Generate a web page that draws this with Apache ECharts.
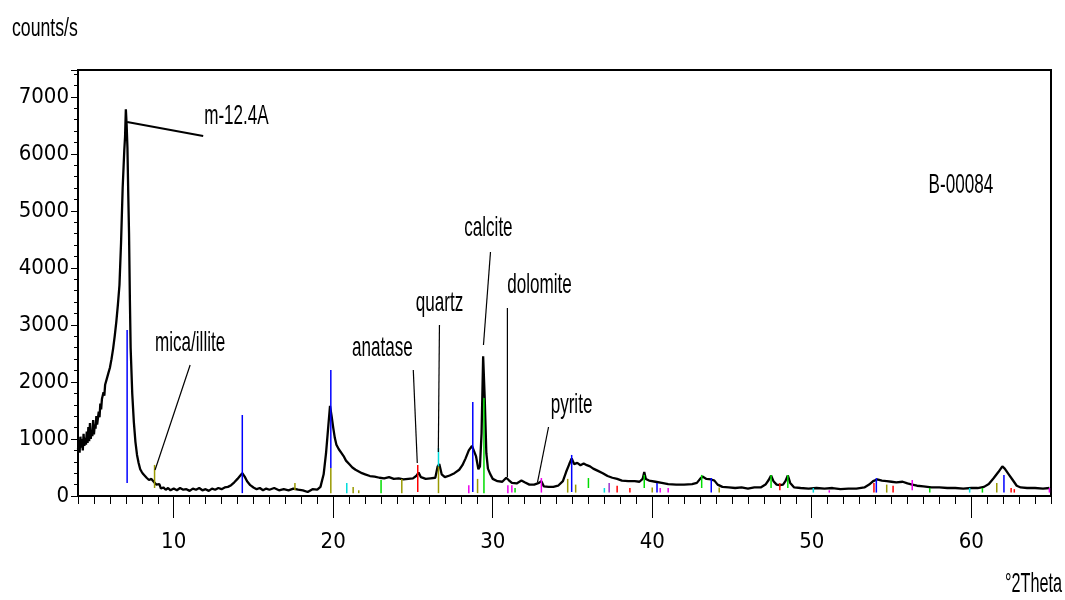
<!DOCTYPE html>
<html>
<head>
<meta charset="utf-8">
<title>B-00084</title>
<script src="https://cdn.jsdelivr.net/npm/echarts@6/dist/echarts.min.js"></script>
<style>
    html, body { margin: 0; padding: 0; background: #fff; }
    #main { width: 1065px; height: 600px; }
</style>
</head>
<body>
<div id="main"></div>
<script>
// measured pattern, °2Theta vs counts/s
var twoTheta = [4.0, 4.05, 4.1, 4.15, 4.2, 4.25, 4.3, 4.35, 4.4, 4.45, 4.5, 4.55, 4.6, 4.65, 4.7, 4.75, 4.8, 4.85, 4.9, 4.95,
    5.0, 5.05, 5.1, 5.15, 5.2, 5.3, 5.35, 5.4, 5.45, 5.5, 5.6, 5.65, 5.7, 5.8, 5.9, 6.0, 6.1, 6.2, 6.3, 6.4,
    6.5, 6.6, 6.7, 6.8, 6.9, 6.95, 7.0, 7.05, 7.1, 7.15, 7.2, 7.25, 7.3, 7.4, 7.5, 7.6, 7.7, 7.8, 7.9, 8.0,
    8.1, 8.2, 8.3, 8.45, 8.6, 8.75, 8.9, 9.0, 9.1, 9.2, 9.35, 9.5, 9.65, 9.8, 10.0, 10.2, 10.4, 10.6, 10.8, 11.0,
    11.2, 11.4, 11.6, 11.8, 12.0, 12.2, 12.4, 12.6, 12.8, 13.0, 13.2, 13.4, 13.6, 13.8, 14.0, 14.15, 14.3, 14.45, 14.6, 14.8,
    15.0, 15.2, 15.4, 15.6, 15.8, 16.0, 16.3, 16.6, 16.9, 17.2, 17.5, 17.8, 18.1, 18.4, 18.7, 19.0, 19.2, 19.4, 19.55, 19.7,
    19.8, 19.9, 20.0, 20.1, 20.2, 20.35, 20.5, 20.65, 20.8, 21.0, 21.2, 21.4, 21.6, 21.8, 22.0, 22.3, 22.6, 22.9, 23.2, 23.5,
    23.8, 24.1, 24.4, 24.7, 25.0, 25.2, 25.35, 25.5, 25.8, 26.1, 26.4, 26.55, 26.65, 26.8, 27.0, 27.3, 27.6, 27.9, 28.1, 28.3,
    28.5, 28.7, 28.8, 28.95, 29.1, 29.2, 29.3, 29.4, 29.5, 29.6, 29.7, 29.85, 30.0, 30.3, 30.6, 30.85, 31.0, 31.2, 31.5, 31.8,
    32.0, 32.3, 32.6, 32.9, 33.05, 33.2, 33.5, 33.8, 34.1, 34.4, 34.6, 34.8, 34.95, 35.1, 35.3, 35.5, 35.7, 35.9, 36.1, 36.3,
    36.6, 36.9, 37.2, 37.5, 37.8, 38.1, 38.5, 38.9, 39.2, 39.4, 39.5, 39.6, 39.8, 40.2, 40.6, 41.0, 41.5, 42.0, 42.5, 42.8,
    43.0, 43.15, 43.4, 43.7, 43.9, 44.1, 44.4, 44.8, 45.2, 45.6, 46.0, 46.4, 46.8, 47.1, 47.3, 47.45, 47.6, 47.8, 48.0, 48.2,
    48.35, 48.5, 48.65, 48.9, 49.3, 49.8, 50.3, 50.8, 51.3, 51.8, 52.3, 52.8, 53.3, 53.6, 53.85, 54.1, 54.4, 54.7, 55.0, 55.3,
    55.7, 56.0, 56.3, 56.6, 57.0, 57.5, 58.0, 58.5, 59.0, 59.5, 60.0, 60.4, 60.8, 61.1, 61.4, 61.7, 61.95, 62.1, 62.35, 62.6,
    62.85, 63.1, 63.5, 64.0, 64.5, 64.9];
var counts = [820, 980, 760, 1040, 850, 1000, 800, 1090, 880, 1020, 900, 1130, 930, 1210, 960, 1280, 1000, 1150, 1050, 1330,
    1080, 1250, 1180, 1400, 1250, 1480, 1380, 1620, 1520, 1700, 1820, 1760, 1950, 2050, 2150, 2250, 2400, 2580, 2800, 3050,
    3350, 3700, 4450, 5400, 6050, 6300, 6780, 6500, 6100, 5300, 4600, 3500, 2600, 1800, 1300, 950, 720, 580, 470, 420,
    380, 400, 320, 280, 300, 250, 200, 170, 210, 130, 150, 110, 140, 100, 130, 100, 140, 110, 120, 90,
    130, 110, 140, 100, 120, 90, 130, 110, 140, 120, 150, 160, 190, 240, 300, 350, 400, 340, 260, 190,
    150, 120, 140, 100, 130, 110, 140, 100, 120, 100, 130, 110, 100, 70, 120, 110, 160, 380, 750, 1250,
    1580, 1400, 1200, 1020, 900, 820, 760, 700, 620, 560, 500, 460, 430, 400, 380, 350, 340, 320, 310, 330,
    300, 310, 290, 300, 310, 350, 410, 330, 300, 310, 320, 520, 560, 380, 330, 360, 400, 460, 540, 660,
    800, 880, 850, 700, 470, 520, 1100, 2450, 1700, 750, 480, 380, 300, 260, 250, 320, 280, 230, 220, 270,
    240, 200, 200, 230, 260, 170, 160, 160, 180, 260, 420, 560, 660, 560, 580, 540, 570, 540, 520, 480,
    440, 400, 350, 320, 300, 270, 260, 260, 250, 300, 420, 300, 270, 250, 230, 210, 200, 200, 210, 230,
    300, 340, 300, 290, 270, 200, 160, 150, 140, 150, 130, 150, 150, 200, 280, 360, 260, 200, 190, 200,
    260, 360, 230, 150, 140, 130, 140, 130, 140, 120, 130, 130, 150, 200, 260, 290, 270, 260, 250, 240,
    250, 220, 200, 180, 170, 150, 150, 140, 140, 130, 140, 140, 160, 210, 310, 420, 520, 480, 380, 280,
    180, 150, 140, 140, 130, 140];

// reference sticks per phase: [2theta, from, to]
var sticksBlue = [[7.08, 230, 2910], [14.3, 50, 1420], [19.85, 490, 2210], [28.75, 70, 1650], [34.95, 70, 720],
    [40.3, 60, 230], [43.7, 60, 315], [54.05, 60, 315], [62.05, 60, 370]];
var sticksOlive = [[8.8, 140, 545], [17.6, 100, 230], [19.85, 50, 490], [21.25, 50, 160], [21.6, 50, 100], [24.3, 50, 300],
    [26.6, 50, 520], [29.05, 50, 300], [34.7, 60, 300], [35.2, 60, 200], [40.0, 60, 150], [44.2, 60, 150],
    [54.7, 60, 200], [61.6, 60, 230]];
var sticksCyan = [[26.6, 520, 840], [20.85, 50, 230], [37.0, 60, 140], [50.1, 60, 140], [59.9, 60, 140]];
var sticksRed = [[25.3, 70, 545], [37.8, 60, 180], [38.6, 60, 140], [48.0, 100, 230], [53.9, 60, 230], [55.1, 60, 180],
    [62.5, 60, 140], [62.7, 60, 120]];
var sticksGreen = [[29.45, 50, 1720], [23.0, 50, 280], [31.4, 60, 140], [36.0, 140, 315], [39.5, 140, 370], [43.1, 140, 370],
    [47.45, 140, 370], [48.5, 140, 370], [57.4, 60, 140], [60.7, 60, 140]];
var sticksMagenta = [[28.5, 50, 190], [30.95, 50, 190], [33.05, 60, 315], [31.2, 60, 190], [40.5, 60, 140], [41.0, 60, 140],
    [51.1, 60, 100], [56.3, 100, 280], [64.9, 60, 140]];
var sticksPurple = [[37.3, 60, 230]];

var tickDegrees = [];
for (var d = 4; d <= 65; d++) {
    tickDegrees.push(String(d));
}

// peak labels: text, label anchor, leader line (data coords)
var peakNames = ['m-12.4A', 'mica/illite', 'anatase', 'quartz', 'calcite', 'dolomite', 'pyrite', 'B-00084'];
var labelAt = [[11.91, 6662], [11.03, 2682], [23.08, 2595], [26.66, 3384], [29.73, 4698], [32.93, 3699], [34.94, 1595], [59.35, 5452]];
var leaders = [[7.08, 6557, 11.85, 6311], [8.83, 456, 11.03, 2297], [25.02, 2209, 25.27, 579], [26.66, 2998, 26.59, 771],
    [29.86, 4278, 29.42, 2647], [30.92, 3296, 30.92, 333], [33.5, 1210, 32.81, 245], null];

var labelFont = '28px "Liberation Sans", Arial, sans-serif';
var tickFont = '"Liberation Sans Narrow", "DejaVu Sans Condensed", "Liberation Sans", sans-serif';

function stickSeries(data, color) {
    return {
        type: 'custom',
        data: data,
        z: 3,
        silent: true,
        encode: { x: 0, y: [1, 2] },
        renderItem: function (params, api) {
            var top = api.coord([api.value(0), api.value(2)]);
            var bottom = api.coord([api.value(0), api.value(1)]);
            return {
                type: 'line',
                shape: { x1: top[0], y1: top[1], x2: bottom[0], y2: bottom[1] },
                style: { stroke: color, lineWidth: 1.5 }
            };
        }
    };
}

var chart = echarts.init(document.getElementById('main'));

var option = {
    animation: false,
    backgroundColor: '#fff',
    grid: {
        left: 78, right: 14, top: 70, bottom: 104,
        show: true, borderColor: '#000', borderWidth: 2
    },
    xAxis: [{
        type: 'value',
        min: 4, max: 65, interval: 1,
        position: 'bottom',
        axisLine: { lineStyle: { color: '#000', width: 2 } },
        axisTick: { length: 8, lineStyle: { color: '#000', width: 1 } },
        axisLabel: {
            margin: 35, color: '#000', fontSize: 22, fontFamily: tickFont,
            formatter: function (v) { return v % 10 === 0 ? String(v) : ''; }
        },
        splitLine: { show: false }
    }, {
        type: 'category',
        data: tickDegrees,
        boundaryGap: false,
        position: 'bottom',
        axisLine: { show: false },
        axisTick: {
            length: 22, lineStyle: { color: '#000', width: 1 },
            interval: function (i, v) { return Number(v) % 10 === 0; }
        },
        axisLabel: { show: false },
        splitLine: { show: false }
    }],
    yAxis: {
        type: 'value',
        min: 0, max: 7470, interval: 1000,
        axisLine: { show: true, lineStyle: { color: '#000', width: 2 } },
        axisTick: { show: true, length: 7, lineStyle: { color: '#000' } },
        minorTick: { show: true, splitNumber: 5, length: 4, lineStyle: { color: '#000' } },
        axisLabel: {
            margin: 9, color: '#000', fontSize: 22, fontFamily: tickFont, showMaxLabel: false,
            formatter: function (v) { return String(v); }
        },
        splitLine: { show: false }
    },
    graphic: [{
        type: 'text', x: 12, y: 29, scaleX: 0.68,
        style: { text: 'counts/s', font: '26px "Liberation Sans", Arial, sans-serif', fill: '#000', verticalAlign: 'middle' }
    }, {
        type: 'text', x: 1062, y: 584, scaleX: 0.58,
        style: { text: '°2Theta', font: labelFont, fill: '#000', align: 'right', verticalAlign: 'middle' }
    }],
    series: [{
        type: 'line',
        data: twoTheta.map(function (t, i) { return [t, counts[i]]; }),
        showSymbol: false,
        z: 2,
        lineStyle: { color: '#000', width: 2.3 }
    },
        stickSeries(sticksBlue, '#0000ff'),
        stickSeries(sticksOlive, '#999900'),
        stickSeries(sticksCyan, '#00dddd'),
        stickSeries(sticksRed, '#ff0000'),
        stickSeries(sticksGreen, '#00dd00'),
        stickSeries(sticksMagenta, '#ee00ee'),
        stickSeries(sticksPurple, '#9933cc'),
    {
        type: 'custom',
        data: labelAt,
        z: 4,
        silent: true,
        renderItem: function (params, api) {
            var i = params.dataIndex;
            var p = api.coord([api.value(0), api.value(1)]);
            var children = [];
            var ln = leaders[i];
            if (ln) {
                var a = api.coord([ln[0], ln[1]]);
                var b = api.coord([ln[2], ln[3]]);
                children.push({
                    type: 'line',
                    shape: { x1: a[0], y1: a[1], x2: b[0], y2: b[1] },
                    style: { stroke: '#000', lineWidth: i === 0 ? 2 : 1.2 }
                });
            }
            children.push({
                type: 'group', x: p[0], y: p[1], scaleX: 0.61,
                children: [{
                    type: 'text',
                    style: {
                        text: peakNames[i], x: 0, y: 0, font: labelFont, fill: '#000',
                        align: i === 0 ? 'left' : 'center', verticalAlign: 'middle'
                    }
                }]
            });
            return { type: 'group', children: children };
        }
    }]
};

chart.setOption(option);
</script>
</body>
</html>
